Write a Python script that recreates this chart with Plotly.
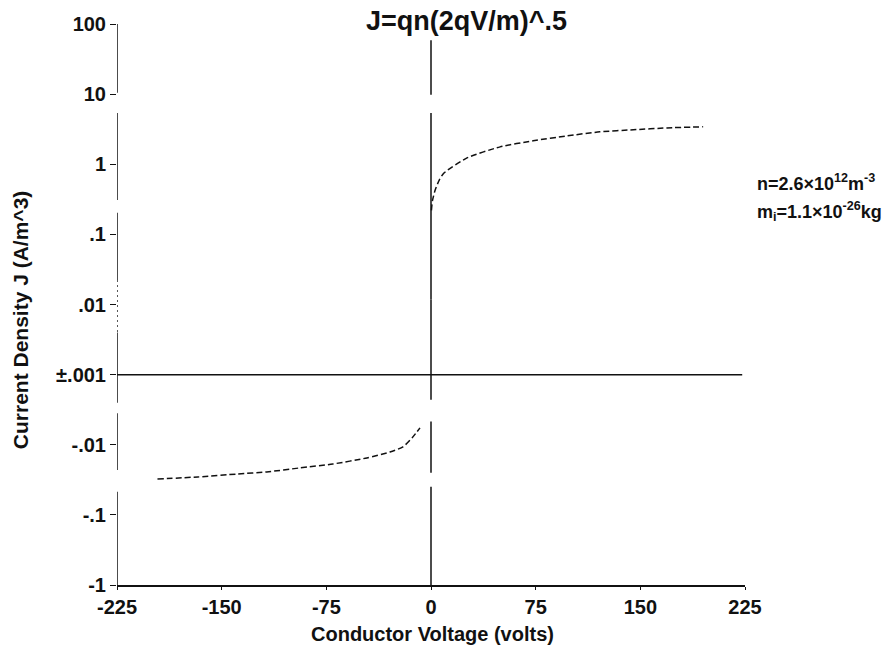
import numpy as np
import plotly.graph_objects as go

# ---- data ----
pos_V = [0.3, 1.0, 3.0, 6.0, 9.3, 25.8, 49.5, 73.2, 97.6, 121, 145, 169, 195]
pos_J = [0.22, 0.30, 0.43, 0.60, 0.75, 1.23, 1.77, 2.16, 2.54, 2.90, 3.10, 3.30, 3.42]

neg_V = [-196, -167, -138.5, -117.7, -94, -70.3, -45.9, -29.4, -20.1, -13.6, -7.9]
neg_J = [-0.0308, -0.0288, -0.0261, -0.0244, -0.0214, -0.0188, -0.0154, -0.0127, -0.0107, -0.0080, -0.00575]

y_tick_values = [100, 10, 1, 0.1, 0.01, 0.001, -0.01, -0.1, -1]
y_tick_labels = ["100", "10", "1", ".1", ".01", "±.001", "-.01", "-.1", "-1"]
x_tick_values = [-225, -150, -75, 0, 75, 150, 225]
x_tick_labels = ["-225", "-150", "-75", "0", "75", "150", "225"]

THR = 0.001


def symlog(v):
    v = np.asarray(v, dtype=float)
    return np.sign(v) * (np.log10(np.abs(v) / THR))


FONT = "Liberation Sans, Arial, Helvetica, sans-serif"
INK = "#111111"

fig = go.Figure()
fig.add_trace(go.Scatter(x=pos_V, y=symlog(pos_J), mode="lines",
                         line=dict(color=INK, width=1.5, dash="6px,3px", shape="spline", smoothing=0.6),
                         showlegend=False, hoverinfo="skip"))
fig.add_trace(go.Scatter(x=neg_V, y=symlog(neg_J), mode="lines",
                         line=dict(color=INK, width=1.5, dash="6px,3px", shape="spline", smoothing=0.6),
                         showlegend=False, hoverinfo="skip"))

shapes = []
# broken (scanned) left axis, segments in transformed units
left_segments = [(5.0, 4.02), (3.73, 2.49), (2.31, 1.35), (0.6, -0.4), (-0.55, -1.36), (-1.67, -3.0)]
for a, b in left_segments:
    shapes.append(dict(type="line", xref="x", yref="y", x0=-225, x1=-225, y0=a, y1=b,
                       line=dict(color=INK, width=1.5)))
shapes.append(dict(type="line", xref="x", yref="y", x0=-225, x1=-225, y0=1.35, y1=0.6,
                   line=dict(color=INK, width=1.4, dash="2px,3px")))
# broken centre line at V = 0
centre_segments = [(4.77, 3.99), (3.73, 1.07), (1.07, -0.36), (-0.67, -1.40), (-1.60, -3.0)]
for a, b in centre_segments:
    shapes.append(dict(type="line", xref="x", yref="y", x0=0, x1=0, y0=a, y1=b,
                       line=dict(color=INK, width=1.5)))
# horizontal line at ±.001
shapes.append(dict(type="line", xref="x", yref="y", x0=-225, x1=223, y0=0, y1=0,
                   line=dict(color=INK, width=1.5)))

annotations = [
    dict(text="<b>J=qn(2qV/m)^.5</b>", xref="paper", yref="paper", x=0.557, y=1.005,
         xanchor="center", yanchor="middle", showarrow=False,
         font=dict(family=FONT, size=27, color=INK)),
    dict(text="<b>n=2.6×10<sup>12</sup>m<sup>-3</sup></b>", xref="paper", yref="paper",
         x=1.016, y=0.717, xanchor="left", yanchor="middle", showarrow=False,
         font=dict(family=FONT, size=18, color=INK)),
    dict(text="<b>m<sub>i</sub>=1.1×10<sup>-26</sup>kg</b>", xref="paper", yref="paper",
         x=1.016, y=0.665, xanchor="left", yanchor="middle", showarrow=False,
         font=dict(family=FONT, size=18, color=INK)),
    dict(text="<b>Current Density J (A/m^3)</b>", xref="paper", yref="paper",
         x=-0.1545, y=0.472, xanchor="center", yanchor="middle", textangle=-90,
         showarrow=False, font=dict(family=FONT, size=21, color=INK)),
    dict(text="<b>Conductor Voltage (volts)</b>", xref="paper", yref="paper",
         x=0.5016, y=-0.087, xanchor="center", yanchor="middle",
         showarrow=False, font=dict(family=FONT, size=20, color=INK)),
]

fig.update_layout(
    width=891, height=649,
    margin=dict(l=117, r=146, t=24, b=64),
    paper_bgcolor="white", plot_bgcolor="white",
    shapes=shapes, annotations=annotations,
    font=dict(family=FONT, color=INK),
    xaxis=dict(range=[-225, 225], tickvals=x_tick_values,
               ticktext=["<b>%s</b>" % t for t in x_tick_labels],
               showgrid=False, zeroline=False, showline=True, linecolor=INK, linewidth=1.5,
               ticks="outside", ticklen=3, tickcolor=INK, tickwidth=1.2,
               tickfont=dict(family=FONT, size=20, color=INK)),
    yaxis=dict(range=[-3, 5], tickvals=list(symlog(y_tick_values)),
               ticktext=["<b>%s</b>" % t for t in y_tick_labels],
               showgrid=False, zeroline=False, showline=False,
               ticks="outside", ticklen=6, tickcolor=INK, tickwidth=1.2,
               tickfont=dict(family=FONT, size=20, color=INK)),
)

fig.write_html("out.html")
